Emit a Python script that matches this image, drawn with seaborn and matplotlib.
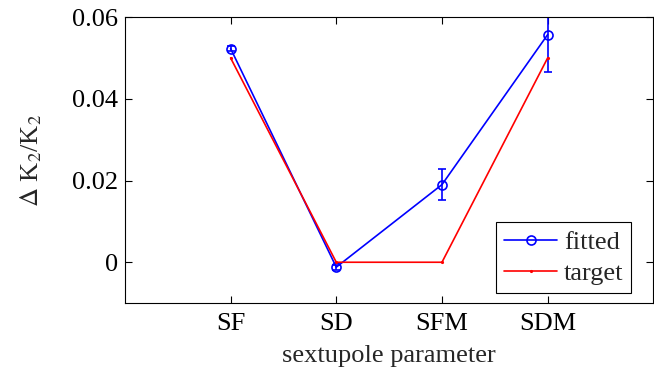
import numpy as np
import pandas as pd
import matplotlib
matplotlib.use("Agg")
import matplotlib.pyplot as plt
import seaborn as sns

params = ["SF", "SD", "SFM", "SDM"]
fitted = [0.0523, -0.0012, 0.0190, 0.0557]
fitted_err = [0.0006, 0.0006, 0.0037, 0.0092]
target = [0.050, 0.0, 0.0, 0.050]
yticks = [0, 0.02, 0.04, 0.06]
ytick_labels = ["0", "0.02", "0.04", "0.06"]

sns.set_theme(style="ticks")
plt.rcParams["font.family"] = ["Liberation Serif", "DejaVu Serif"]
plt.rcParams["mathtext.fontset"] = "stix"

FS = 19

pos = np.arange(1, len(params) + 1)
df = pd.DataFrame({"pos": pos, "fitted": fitted, "err": fitted_err, "target": target})

fig = plt.figure(figsize=(6.54, 3.71), dpi=100)
ax = fig.add_axes([0.191, 0.183, 0.808, 0.771])

sns.lineplot(data=df, x="pos", y="fitted", ax=ax, color="#0000ff", lw=1.2,
             marker="o", markersize=6.5, markerfacecolor="none",
             markeredgecolor="#0000ff", markeredgewidth=1.2, label="fitted")
ax.errorbar(df["pos"], df["fitted"], yerr=df["err"], fmt="none",
            ecolor="#0000ff", elinewidth=1.2, capsize=3, capthick=1.2)
sns.lineplot(data=df, x="pos", y="target", ax=ax, color="#ff0000", lw=1.2,
             marker=".", markersize=3, markeredgecolor="#ff0000", label="target")

ax.set_xlim(0, 5)
ax.set_ylim(-0.01, 0.06)
ax.set_xticks(pos)
ax.set_xticklabels(params)
ax.set_yticks(yticks)
ax.set_yticklabels(ytick_labels)
ax.tick_params(direction="in", length=5, width=0.8, labelsize=FS,
               top=True, right=True, colors="black")
ax.tick_params(axis="x", pad=7)
ax.tick_params(axis="y", pad=5)
for s in ax.spines.values():
    s.set_linewidth(0.8)
    s.set_color("black")

ax.set_xlabel("sextupole parameter", fontsize=FS, labelpad=7)
ax.set_ylabel(r"$\Delta$ K$_2$/K$_2$", fontsize=FS, labelpad=20)

leg = ax.legend(loc="lower right", fontsize=FS, frameon=True, fancybox=False,
                edgecolor="black", framealpha=1, handlelength=2.0,
                borderpad=0.3, labelspacing=0.3, handletextpad=0.25,
                borderaxespad=0.0, bbox_to_anchor=(0.958, 0.035))
leg.get_frame().set_linewidth(0.8)

fig.savefig("out.png", dpi=100)
